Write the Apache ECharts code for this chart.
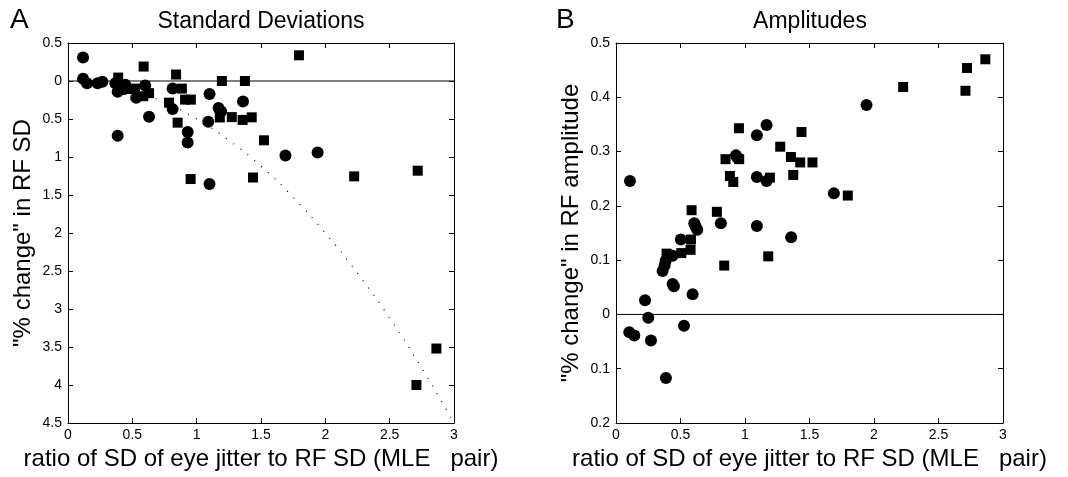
<!DOCTYPE html>
<html>
<head>
<meta charset="utf-8">
<script src="https://cdn.jsdelivr.net/npm/echarts@6/dist/echarts.min.js"></script>
<style>
html,body{margin:0;padding:0;background:#fff;}
#c{width:1068px;height:477px;}
</style>
</head>
<body>
<div id="c"></div>
<script>
// ---- Data ----
const xTicks = ['0','0.5','1','1.5','2','2.5','3'];

// Panel A: Standard Deviations ("% change" in RF SD)
const sdCircles = [
  [0.117,0.31],[0.117,0.03],[0.148,-0.03],[0.23,-0.03],[0.267,-0.01],
  [0.368,-0.03],[0.386,-0.14],[0.445,-0.05],[0.437,-0.105],[0.53,-0.22],
  [0.60,-0.06],[0.63,-0.47],[0.386,-0.72],[0.813,-0.10],[0.813,-0.37],
  [0.93,-0.67],[0.93,-0.81],[1.10,-0.17],[1.09,-0.535],[1.17,-0.355],
  [1.19,-0.40],[1.36,-0.27],[1.10,-1.355],[1.69,-0.98],[1.94,-0.94]
];
const sdSquares = [
  [0.39,0.045],[0.50,-0.105],[0.52,-0.10],[0.588,0.19],[0.585,-0.20],
  [0.63,-0.16],[0.84,0.085],[0.885,-0.10],[0.785,-0.285],[0.852,-0.548],
  [0.91,-0.245],[0.955,-0.245],[0.953,-1.29],[1.196,0.0],[1.18,-0.48],
  [1.273,-0.475],[1.375,0.0],[1.357,-0.512],[1.428,-0.478],[1.523,-0.78],
  [1.438,-1.27],[1.795,0.338],[2.224,-1.255],[2.718,-1.18],[2.863,-3.52],
  [2.708,-4.0]
];
const sdCurve = [
  [0,0],[0.25,-0.03],[0.5,-0.125],[0.75,-0.28],[1,-0.5],[1.25,-0.78],
  [1.5,-1.12],[1.75,-1.53],[2,-2],[2.25,-2.53],[2.5,-3.12],[2.75,-3.78],[3,-4.5]
];

// Panel B: Amplitudes ("% change" in RF amplitude)
const ampCircles = [
  [0.108,0.246],[0.103,-0.033],[0.142,-0.039],[0.225,0.026],[0.25,-0.006],
  [0.271,-0.048],[0.361,0.080],[0.377,0.090],[0.385,0.099],[0.387,-0.117],
  [0.439,0.108],[0.439,0.056],[0.449,0.052],[0.503,0.138],[0.527,-0.021],
  [0.594,0.037],[0.607,0.168],[0.617,0.162],[0.63,0.156],[0.813,0.168],
  [0.93,0.293],[0.94,0.289],[1.092,0.33],[1.092,0.253],[1.092,0.163],
  [1.167,0.349],[1.167,0.246],[1.358,0.142],[1.689,0.223],[1.942,0.386]
];
const ampSquares = [
  [0.392,0.112],[0.506,0.113],[0.581,0.138],[0.578,0.119],[0.586,0.192],
  [0.782,0.189],[0.839,0.090],[0.849,0.286],[0.883,0.255],[0.909,0.244],
  [0.955,0.286],[0.953,0.343],[1.18,0.107],[1.193,0.252],[1.273,0.309],
  [1.356,0.290],[1.374,0.257],[1.428,0.28],[1.438,0.336],[1.523,0.28],
  [1.797,0.219],[2.226,0.419],[2.709,0.412],[2.721,0.454],[2.863,0.47]
];
const zeroLine = [[0,0],[3,0]];

// ---- Chart ----
const FONT = '"Liberation Sans", Arial, Helvetica, sans-serif';
const absFmt = v => String(+Math.abs(v).toFixed(1));

function xAx(grid, pos, withLabel){
  return {
    type:'value', gridIndex:grid, position:pos, min:0, max:3, interval:0.5,
    axisLine:{show:true, onZero:false, lineStyle:{color:'#000', width:1}},
    axisTick:{show:true, inside:true, length:5, lineStyle:{color:'#000'}},
    axisLabel:{show:withLabel, color:'#000', fontSize:14, fontFamily:FONT, margin:5,
               formatter: v => xTicks[Math.round(v/0.5)]},
    splitLine:{show:false},
    name: withLabel ? 'ratio of SD of eye jitter to RF SD (MLE   pair)' : '',
    nameLocation:'middle', nameGap:23,
    nameTextStyle:{color:'#000', fontSize:24, fontFamily:FONT}
  };
}
function yAx(grid, pos, withLabel, min, max, interval, name){
  return {
    type:'value', gridIndex:grid, position:pos, min:min, max:max, interval:interval,
    axisLine:{show:true, onZero:false, lineStyle:{color:'#000', width:1}},
    axisTick:{show:true, inside:true, length:5, lineStyle:{color:'#000'}},
    axisLabel:{show:withLabel, color:'#000', fontSize:14, fontFamily:FONT, margin:6,
               formatter: absFmt},
    splitLine:{show:false},
    name: withLabel ? name : '',
    nameLocation:'middle', nameGap:33, nameRotate:90,
    nameTextStyle:{color:'#000', fontSize:24, fontFamily:FONT}
  };
}

const blk = {color:'#000', opacity:1};
const option = {
  backgroundColor:'#fff',
  animation:false,
  title:[
    {text:'A', left:10, top:6, padding:0, textStyle:{fontSize:28, fontWeight:'normal', color:'#000', fontFamily:FONT}},
    {text:'B', left:556, top:6, padding:0, textStyle:{fontSize:28, fontWeight:'normal', color:'#000', fontFamily:FONT}},
    {text:'Standard Deviations', left:261, top:10, padding:0, textAlign:'center',
     textStyle:{fontSize:23, fontWeight:'normal', color:'#000', fontFamily:FONT}},
    {text:'Amplitudes', left:810, top:10, padding:0, textAlign:'center',
     textStyle:{fontSize:23, fontWeight:'normal', color:'#000', fontFamily:FONT}}
  ],
  grid:[
    {left:68, top:43, width:386, height:380},
    {left:616, top:43, width:387, height:380}
  ],
  xAxis:[ xAx(0,'bottom',true), xAx(0,'top',false), xAx(1,'bottom',true), xAx(1,'top',false) ],
  yAxis:[
    yAx(0,'left',true,-4.5,0.5,0.5,'"% change" in RF SD'),
    yAx(0,'right',false,-4.5,0.5,0.5,''),
    yAx(1,'left',true,-0.2,0.5,0.1,'"% change" in RF amplitude'),
    yAx(1,'right',false,-0.2,0.5,0.1,'')
  ],
  series:[
    {type:'line', xAxisIndex:0, yAxisIndex:0, data:zeroLine, showSymbol:false, symbol:'none',
     lineStyle:{color:'#000', width:1}, z:1, silent:true},
    {type:'line', xAxisIndex:0, yAxisIndex:0, data:sdCurve, smooth:true, symbol:'none',
     lineStyle:{color:'#000', width:1.2, type:[1,8]}, z:1, silent:true},
    {type:'scatter', xAxisIndex:0, yAxisIndex:0, data:sdCircles, symbol:'circle', symbolSize:12, itemStyle:blk, z:3},
    {type:'scatter', xAxisIndex:0, yAxisIndex:0, data:sdSquares, symbol:'rect', symbolSize:10, itemStyle:blk, z:3},
    {type:'line', xAxisIndex:2, yAxisIndex:2, data:zeroLine, symbol:'none',
     lineStyle:{color:'#000', width:1}, z:1, silent:true},
    {type:'scatter', xAxisIndex:2, yAxisIndex:2, data:ampCircles, symbol:'circle', symbolSize:12, itemStyle:blk, z:3},
    {type:'scatter', xAxisIndex:2, yAxisIndex:2, data:ampSquares, symbol:'rect', symbolSize:10, itemStyle:blk, z:3}
  ]
};
const chart = echarts.init(document.getElementById('c'), null, {renderer:'canvas'});
chart.setOption(option);
</script>
</body>
</html>
